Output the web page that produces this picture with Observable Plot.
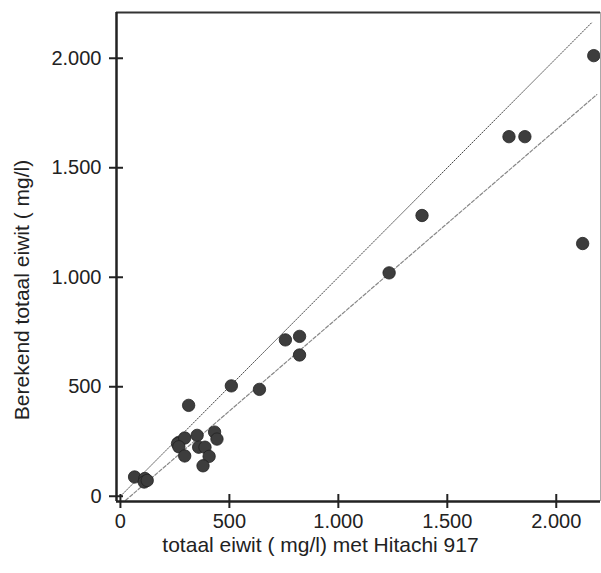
<!DOCTYPE html>
<html>
<head>
<meta charset="utf-8">
<script src="https://cdn.jsdelivr.net/npm/d3@7"></script>
<script src="https://cdn.jsdelivr.net/npm/@observablehq/plot@0.6"></script>
<style>
  html, body { margin: 0; padding: 0; background: #fff; }
  #chart svg { display: block; }
</style>
</head>
<body>
<div id="chart"></div>
<script>
// Data
const hitachi  = [2172, 1783, 1856, 1384, 2121, 1233, 757, 822, 822, 509, 638, 313, 268, 262, 295, 268, 295, 352, 432, 443, 359, 388, 407, 379, 65, 112, 109, 123];
const berekend = [2012, 1642, 1642, 1282, 1154, 1020, 714, 730, 645, 504, 488, 415, 246, 240, 266, 226, 184, 278, 293, 261, 224, 224, 182, 139, 88, 81, 65, 72];

// Reference lines (end points)
const identityX = [0, 2165];
const identityY = [0, 2165];
const regressionX = [5, 2186];
const regressionY = [-35, 1834];

const xTicks = [0, 500, 1000, 1500, 2000];
const yTicks = [0, 500, 1000, 1500, 2000];
const xDomain = [-18, 2203];
const yDomain = [-24, 2209];

const xLabel = "totaal eiwit ( mg/l) met Hitachi 917";
const yLabel = "Berekend totaal eiwit ( mg/l)";

const points = hitachi.map((x, i) => ({x, y: berekend[i]}));
const identity = identityX.map((x, i) => ({x, y: identityY[i]}));
const regression = regressionX.map((x, i) => ({x, y: regressionY[i]}));

const nl = d3.formatLocale({decimal: ",", thousands: ".", grouping: [3], currency: ["€", ""]});
const fmt = nl.format(",");

const font = "'Liberation Sans', Arial, Helvetica, sans-serif";

const chart = Plot.plot({
  width: 601,
  height: 573,
  marginLeft: 116,
  marginRight: 1,
  marginTop: 12,
  marginBottom: 72,
  style: {fontFamily: font, color: "#222", background: "#fff"},
  x: {domain: xDomain},
  y: {domain: yDomain},
  marks: [
    Plot.line(identity, {x: "x", y: "y", stroke: "#444", strokeWidth: 1, strokeDasharray: "1.2,1.6"}),
    Plot.line(regression, {x: "x", y: "y", stroke: "#888", strokeWidth: 1.2, strokeDasharray: "3.5,2", clip: true}),
    Plot.dot(points, {x: "x", y: "y", r: 6.2, fill: "#3d3d3d", stroke: "#222", strokeWidth: 0.8}),
    Plot.ruleY([yDomain[1]], {stroke: "#333", strokeWidth: 1.8}),
    Plot.ruleX([xDomain[1]], {stroke: "#aaa", strokeWidth: 1}),
    Plot.ruleY([yDomain[0]], {stroke: "#222", strokeWidth: 2.5}),
    Plot.ruleX([xDomain[0]], {stroke: "#222", strokeWidth: 2.5}),
    Plot.axisX({ticks: xTicks, tickFormat: fmt, tickSize: 14, dy: -7, tickPadding: 5, fontSize: 20, stroke: "#222", strokeWidth: 2, fill: "#222", label: null}),
    Plot.axisY({ticks: yTicks, tickFormat: fmt, tickSize: 14, dx: 7, tickPadding: 8, fontSize: 20, stroke: "#222", strokeWidth: 2, fill: "#222", label: null}),
    Plot.text([xLabel], {frameAnchor: "bottom", text: d => d, textAnchor: "middle", lineAnchor: "middle", dx: -38, dy: 44, fontSize: 21, fill: "#222"}),
    Plot.text([yLabel], {frameAnchor: "left", text: d => d, rotate: -90, textAnchor: "middle", lineAnchor: "middle", dx: -94, dy: 33, fontSize: 21, fill: "#222"})
  ]
});
document.getElementById("chart").appendChild(chart);
</script>
</body>
</html>
